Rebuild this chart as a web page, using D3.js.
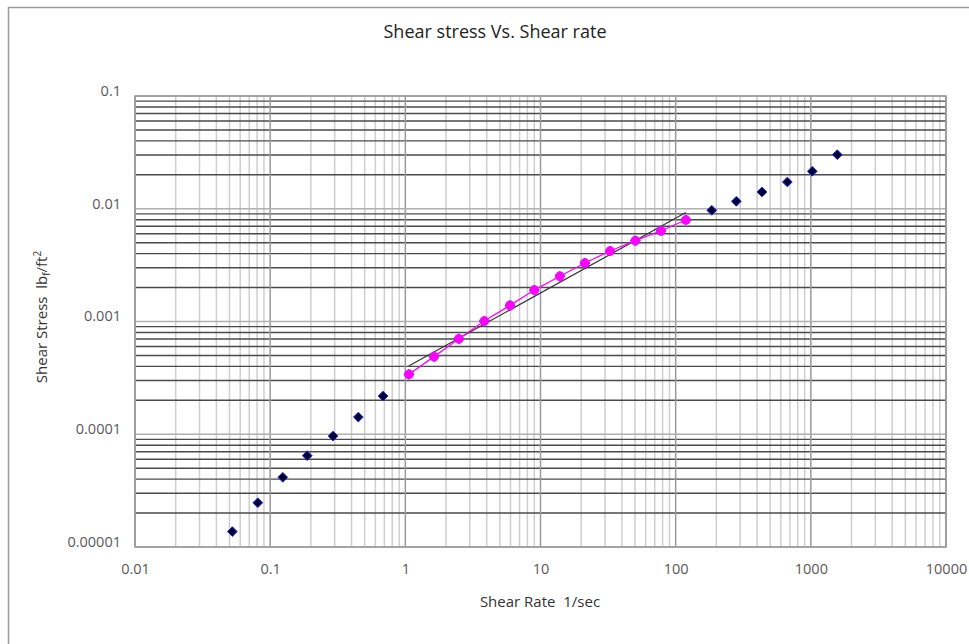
<!DOCTYPE html>
<html>
<head>
<meta charset="utf-8">
<script src="https://cdn.jsdelivr.net/npm/d3@7"></script>
<style>
  body { margin: 0; background: #fff; }
  svg text { font-family: "Open Sans", sans-serif; white-space: pre; }
</style>
</head>
<body>
<svg id="grafico" width="969" height="644"></svg>
<script>
// Dados (taxa de cisalhamento x tensão de cisalhamento).
const taxaMedida = [0.0525, 0.081, 0.124, 0.188, 0.292, 0.449, 0.684,
    1.064, 1.63, 2.49, 3.84, 5.95, 9.0, 13.9, 21.3, 32.7, 50.3, 77.9, 119,
    185, 281, 435, 670, 1025, 1570];
const tensaoMedida = [1.37e-5, 2.47e-5, 4.15e-5, 6.46e-5, 9.64e-5, 1.42e-4, 2.18e-4,
    3.40e-4, 4.88e-4, 7.03e-4, 1.01e-3, 1.39e-3, 1.90e-3, 2.52e-3, 3.30e-3, 4.22e-3, 5.21e-3, 6.38e-3, 7.95e-3,
    9.69e-3, 0.01164, 0.01409, 0.01727, 0.02149, 0.03015];

// Trecho usado no ajuste (pontos rosa).
const taxaAjuste = [1.064, 1.63, 2.49, 3.84, 5.95, 9.0, 13.9, 21.3, 32.7, 50.3, 77.9, 119];
const tensaoAjuste = [3.40e-4, 4.88e-4, 7.03e-4, 1.01e-3, 1.39e-3, 1.90e-3, 2.52e-3, 3.30e-3, 4.22e-3, 5.21e-3, 6.38e-3, 7.95e-3];

// Reta da lei de potência (extremos).
const taxaReta = [1.06, 119];
const tensaoReta = [4.03e-4, 9.26e-3];

const ticksX = [0.01, 0.1, 1, 10, 100, 1000, 10000];
const rotulosX = ["0.01", "0.1", "1", "10", "100", "1000", "10000"];
const ticksY = [0.00001, 0.0001, 0.001, 0.01, 0.1];
const rotulosY = ["0.00001", "0.0001", "0.001", "0.01", "0.1"];

const svg = d3.select("#grafico");

// Moldura externa do gráfico.
svg.append("rect")
    .attr("x", 8.5).attr("y", 7.5)
    .attr("width", 980).attr("height", 660)
    .attr("fill", "none").attr("stroke", "#9a9a9a").attr("stroke-width", 1.5);

const margin = { top: 96, right: 23, bottom: 97, left: 135 };
const width = 969 - margin.left - margin.right;
const height = 644 - margin.top - margin.bottom;

const g = svg.append("g")
    .attr("transform", "translate(" + margin.left + "," + margin.top + ")");

const x = d3.scaleLog().domain([0.01, 10000]).range([0, width]);
const y = d3.scaleLog().domain([0.00001, 0.1]).range([height, 0]);

// Linhas de grade secundárias (2..9 de cada década).
const menoresX = [];
ticksX.slice(0, -1).forEach(d => { for (let k = 2; k <= 9; k++) menoresX.push(d * k); });
const menoresY = [];
ticksY.slice(0, -1).forEach(d => { for (let k = 2; k <= 9; k++) menoresY.push(d * k); });

g.append("g").selectAll("line")
    .data(menoresX).enter().append("line")
    .attr("x1", d => x(d)).attr("x2", d => x(d))
    .attr("y1", 0).attr("y2", height)
    .attr("stroke", "#cfcfcf").attr("stroke-width", 1.5);

g.append("g").selectAll("line")
    .data(menoresY).enter().append("line")
    .attr("x1", 0).attr("x2", width)
    .attr("y1", d => y(d)).attr("y2", d => y(d))
    .attr("stroke", "#4a4a4a").attr("stroke-width", 1.4);

// Linhas de grade principais.
g.append("g").selectAll("line")
    .data(ticksX).enter().append("line")
    .attr("x1", d => x(d)).attr("x2", d => x(d))
    .attr("y1", 0).attr("y2", height)
    .attr("stroke", "#9a9a9a").attr("stroke-width", 1.5);

g.append("g").selectAll("line")
    .data(ticksY).enter().append("line")
    .attr("x1", 0).attr("x2", width)
    .attr("y1", d => y(d)).attr("y2", d => y(d))
    .attr("stroke", "#b0b0b0").attr("stroke-width", 1.5);

g.append("rect")
    .attr("width", width).attr("height", height)
    .attr("fill", "none").attr("stroke", "#999").attr("stroke-width", 1.5);

// Eixos (apenas rótulos).
const eixoX = g.append("g")
    .attr("transform", "translate(0," + height + ")")
    .call(d3.axisBottom(x).tickValues(ticksX).tickFormat((d, i) => rotulosX[i]).tickSize(0).tickPadding(17));
eixoX.select(".domain").remove();
eixoX.selectAll("text").attr("font-size", 14.5).attr("fill", "#595959")
    .attr("font-family", "'Open Sans', sans-serif");

const eixoY = g.append("g")
    .call(d3.axisLeft(y).tickValues(ticksY).tickFormat((d, i) => rotulosY[i]).tickSize(0).tickPadding(14));
eixoY.select(".domain").remove();
eixoY.selectAll("text").attr("font-size", 14.5).attr("fill", "#595959").attr("dy", "-0.05em")
    .attr("font-family", "'Open Sans', sans-serif");

// Reta de ajuste.
const linha = d3.line().x(d => x(d[0])).y(d => y(d[1]));
g.append("path")
    .datum(taxaReta.map((d, i) => [d, tensaoReta[i]]))
    .attr("d", linha)
    .attr("fill", "none").attr("stroke", "#333").attr("stroke-width", 1.2);

// Série medida (losangos azul-marinho).
const simbolo = d3.symbol().type(d3.symbolDiamond2).size(60);
g.append("g").selectAll("path")
    .data(taxaMedida.map((d, i) => [d, tensaoMedida[i]]))
    .enter().append("path")
    .attr("d", simbolo)
    .attr("transform", d => "translate(" + x(d[0]) + "," + y(d[1]) + ")")
    .attr("fill", "#000033").attr("stroke", "#2020e0").attr("stroke-width", 1);

// Série de ajuste (rosa).
const pontosAjuste = taxaAjuste.map((d, i) => [d, tensaoAjuste[i]]);
g.append("path")
    .datum(pontosAjuste)
    .attr("d", linha)
    .attr("fill", "none").attr("stroke", "#ff00ff").attr("stroke-width", 1.3);

g.append("g").selectAll("circle")
    .data(pontosAjuste).enter().append("circle")
    .attr("cx", d => x(d[0])).attr("cy", d => y(d[1]))
    .attr("r", 4.6)
    .attr("fill", "#ff00ff").attr("stroke", "#d020ff").attr("stroke-width", 0.6);

// Títulos.
svg.append("text")
    .attr("x", 495).attr("y", 38)
    .attr("text-anchor", "middle")
    .attr("font-size", 17.5).attr("fill", "#222")
    .attr("textLength", 223).attr("lengthAdjust", "spacingAndGlyphs")
    .text("Shear stress Vs. Shear rate");

svg.append("text")
    .attr("x", 540).attr("y", 607)
    .attr("text-anchor", "middle")
    .attr("font-size", 15).attr("fill", "#333")
    .text("Shear Rate  1/sec");

const tituloY = svg.append("text")
    .attr("transform", "translate(47,317) rotate(-90)")
    .attr("text-anchor", "middle")
    .attr("font-size", 15).attr("fill", "#333");
tituloY.append("tspan").text("Shear Stress  lb");
tituloY.append("tspan").attr("font-size", 10).attr("dy", 3).text("f");
tituloY.append("tspan").attr("dy", -3).text("/ft");
tituloY.append("tspan").attr("font-size", 10).attr("dy", -6).text("2");
</script>
</body>
</html>
